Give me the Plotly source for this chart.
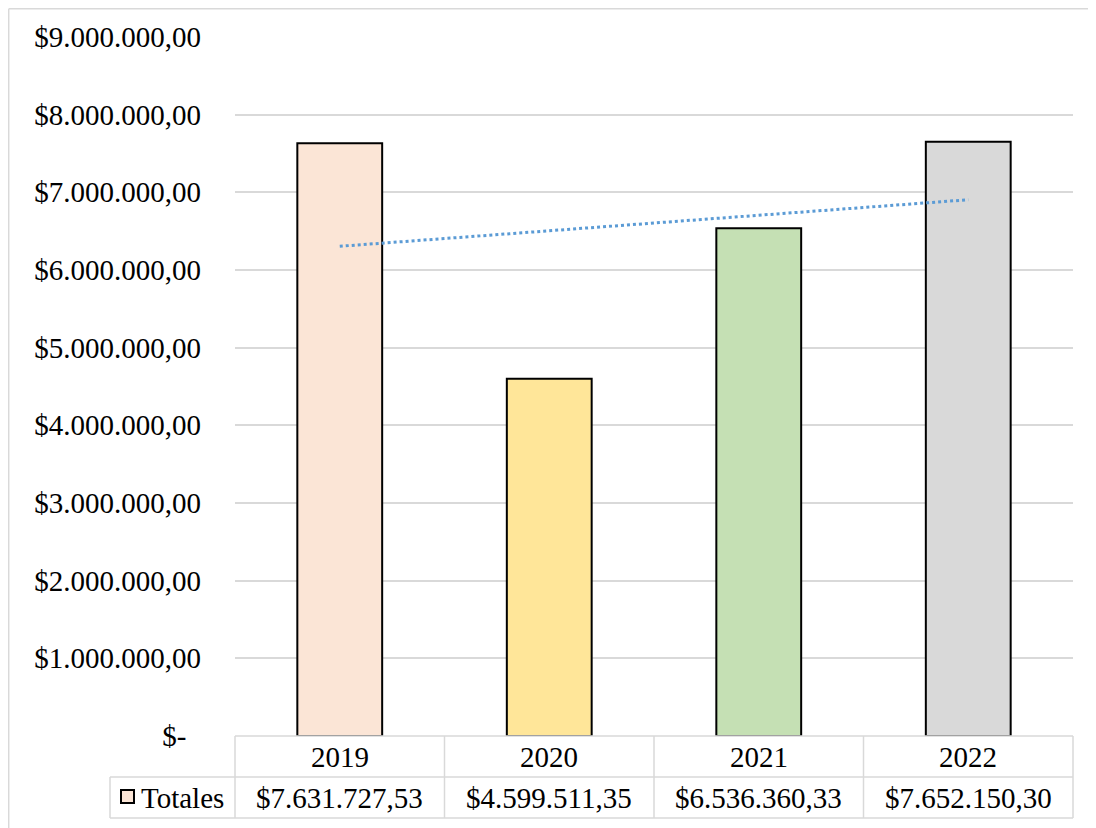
import numpy as np
import plotly.graph_objects as go

years = ["2019", "2020", "2021", "2022"]
totales = [7631727.53, 4599511.35, 6536360.33, 7652150.30]
bar_colors = ["#FBE5D6", "#FFE699", "#C5E0B4", "#D9D9D9"]
tick_vals = [0, 1e6, 2e6, 3e6, 4e6, 5e6, 6e6, 7e6, 8e6, 9e6]
series_name = "Totales"


def money(v):
    s = f"{v:,.2f}"
    s = s.replace(",", "X").replace(".", ",").replace("X", ".")
    return "$" + s


tick_text = ["$-\u00a0\u00a0" if v == 0 else money(v) for v in tick_vals]

W, H = 1096, 828
OFF = 8  # page body margin
L, R, T, B = 235 - OFF, 1073 - OFF, 37 - OFF, 736 - OFF


def px(x):
    return (x - OFF - L) / (R - L)


def py(y):
    return (B - (y - OFF)) / (B - T)


FONT = "Liberation Serif, Times New Roman, serif"
FS = 29

# linear trendline (Excel-style) over category index 1..4
xi = np.arange(1, len(totales) + 1)
slope, intercept = np.polyfit(xi, totales, 1)
trend = slope * xi + intercept

fig = go.Figure()
fig.add_trace(go.Bar(
    x=years, y=totales, width=0.405,
    marker=dict(color=bar_colors, line=dict(color="#000000", width=2)),
    showlegend=False, hoverinfo="skip",
))
fig.add_trace(go.Scatter(
    x=years, y=trend, mode="lines",
    line=dict(color="#5B9BD5", width=3, dash="dot"),
    showlegend=False, hoverinfo="skip",
))

shapes = []
grid = dict(color="#D9D9D9", width=1.5)
# outer chart border (left and top)
shapes.append(dict(type="line", xref="paper", yref="paper", x0=px(8.7), x1=px(1110), y0=py(8.7), y1=py(8.7), line=grid))
shapes.append(dict(type="line", xref="paper", yref="paper", x0=px(8.7), x1=px(8.7), y0=py(8.7), y1=py(840), line=grid))
# data table
y_top, y_mid, y_bot = 736, 777, 818
shapes.append(dict(type="line", xref="paper", yref="paper", x0=0, x1=1, y0=py(y_top), y1=py(y_top), line=grid))
for yy in (y_mid, y_bot):
    shapes.append(dict(type="line", xref="paper", yref="paper", x0=px(110), x1=1, y0=py(yy), y1=py(yy), line=grid))
n = len(years)
for i in range(n + 1):
    shapes.append(dict(type="line", xref="paper", yref="paper", x0=i / n, x1=i / n, y0=py(y_top), y1=py(y_bot), line=grid))
shapes.append(dict(type="line", xref="paper", yref="paper", x0=px(110), x1=px(110), y0=py(y_mid), y1=py(y_bot), line=grid))
# legend key
shapes.append(dict(type="rect", xref="paper", yref="paper", x0=px(121), x1=px(134), y0=py(803), y1=py(790),
                   fillcolor=bar_colors[0], line=dict(color="#000000", width=2)))

annotations = []
for i, (yr, v) in enumerate(zip(years, totales)):
    xc = (i + 0.5) / n
    annotations.append(dict(text=yr, xref="paper", yref="paper", x=xc, y=py(757), showarrow=False,
                            xanchor="center", yanchor="middle", font=dict(family=FONT, size=FS, color="#000000")))
    annotations.append(dict(text=money(v), xref="paper", yref="paper", x=xc, y=py(798), showarrow=False,
                            xanchor="center", yanchor="middle", font=dict(family=FONT, size=FS, color="#000000")))
annotations.append(dict(text=series_name, xref="paper", yref="paper", x=px(139), y=py(798), showarrow=False,
                        xanchor="left", yanchor="middle", font=dict(family=FONT, size=FS, color="#000000")))

fig.update_layout(
    width=W, height=H,
    margin=dict(l=L, r=W - R, t=T, b=H - B, pad=0),
    paper_bgcolor="#FFFFFF", plot_bgcolor="#FFFFFF",
    font=dict(family=FONT, size=FS, color="#000000"),
    bargap=0.6,
    xaxis=dict(type="category", range=[-0.5, 3.5], showticklabels=False, showgrid=False,
               showline=False, zeroline=False, ticks=""),
    yaxis=dict(range=[0, 9e6], tickvals=tick_vals, ticktext=tick_text, showgrid=True,
               gridcolor="#D9D9D9", gridwidth=1.5, zeroline=False, showline=False, ticks="",
               ticklabelstandoff=33, tickfont=dict(family=FONT, size=FS, color="#000000")),
    shapes=shapes, annotations=annotations,
)

fig.write_html("out.html")
